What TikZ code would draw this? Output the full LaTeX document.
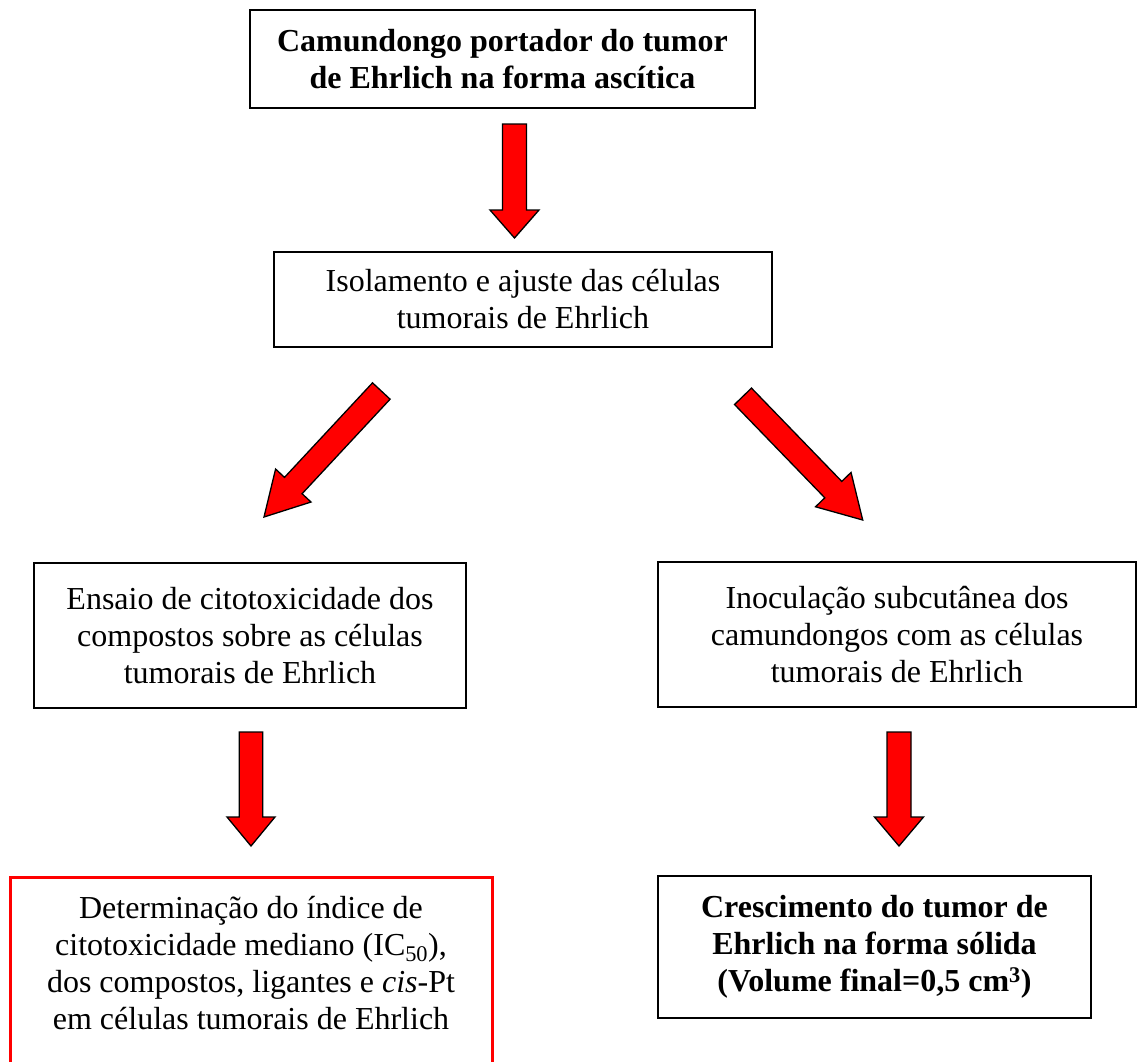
\documentclass[tikz,border=0pt]{standalone}
\usepackage{fontspec}
\setmainfont{Liberation Serif}
\usetikzlibrary{calc}
\tikzset{
  box/.style={draw=black, line width=1.3pt, align=center, inner sep=0pt,
    font=\fontsize{32}{37}\selectfont},
  boldbox/.style={box, line width=2pt, font=\fontsize{32}{37}\selectfont\bfseries},
  redbox/.style={draw=red, line width=3pt, inner sep=0pt},
  plaintext/.style={align=center, inner sep=0pt, font=\fontsize{32}{37}\selectfont},
  redarrow/.style={draw=black, line width=1.3pt, fill=red, line join=miter},
}
% #1 tail, #2 tip, #3 shaft half width, #4 head half width, #5 head length
\newcommand\blockarrow[5]{%
  \coordinate (hb) at ($(#2)!#5!(#1)$);
  \draw[redarrow] ($(#1)!#3!90:(#2)$) -- ($(hb)!#3!90:(#2)$) -- ($(hb)!#4!90:(#2)$)
    -- (#2) -- ($(hb)!#4!-90:(#2)$) -- ($(hb)!#3!-90:(#2)$) -- ($(#1)!#3!-90:(#2)$) -- cycle;
}
\begin{document}
\begin{tikzpicture}[x=1pt,y=-1pt]
\clip (0,0) rectangle (1137,1061);
\fill[white] (0,0) rectangle (1137,1061);

\node[boldbox, minimum width=505pt, minimum height=98pt] (top) at (502.5,59)
  {Camundongo portador do tumor\\de Ehrlich na forma ascítica};
\node[box, minimum width=498pt, minimum height=95pt] (iso) at (523,299.5)
  {Isolamento e ajuste das células\\tumorais de Ehrlich};
\node[box, minimum width=432pt, minimum height=145pt] (ens) at (250,635.5)
  {Ensaio de citotoxicidade dos\\compostos sobre as células\\tumorais de Ehrlich};
\node[box, minimum width=478pt, minimum height=145pt] (ino) at (897,634.5)
  {Inoculação subcutânea dos\\camundongos com as células\\tumorais de Ehrlich};
\node[boldbox, minimum width=433pt, minimum height=142pt] (cre) at (874.5,947)
  {Crescimento do tumor de\\Ehrlich na forma sólida\\(Volume final=0,5 cm\textsuperscript{3})};
\node[redbox, minimum width=482pt, minimum height=230pt, anchor=north] (detbox) at (251,876) {};
\node[plaintext] (det) at (251,963)
  {Determinação do índice de\\citotoxicidade mediano (IC\textsubscript{50}),\\dos compostos, ligantes e \textit{cis}-Pt\\em células tumorais de Ehrlich};

\coordinate (a1s) at (514.5,124);  \coordinate (a1e) at (514.5,238);
\coordinate (a2s) at (381.3,391);  \coordinate (a2e) at (264,517);
\coordinate (a3s) at (743,396.3);  \coordinate (a3e) at (862.7,520);
\coordinate (a4s) at (251,732);    \coordinate (a4e) at (251,846);
\coordinate (a5s) at (899,732);    \coordinate (a5e) at (899,846);

\blockarrow{a1s}{a1e}{12pt}{24.5pt}{28pt}
\blockarrow{a2s}{a2e}{12pt}{24.2pt}{43pt}
\blockarrow{a3s}{a3e}{11.8pt}{24.7pt}{42.3pt}
\blockarrow{a4s}{a4e}{11.8pt}{24pt}{29pt}
\blockarrow{a5s}{a5e}{12pt}{24.5pt}{29pt}
\end{tikzpicture}
\end{document}
